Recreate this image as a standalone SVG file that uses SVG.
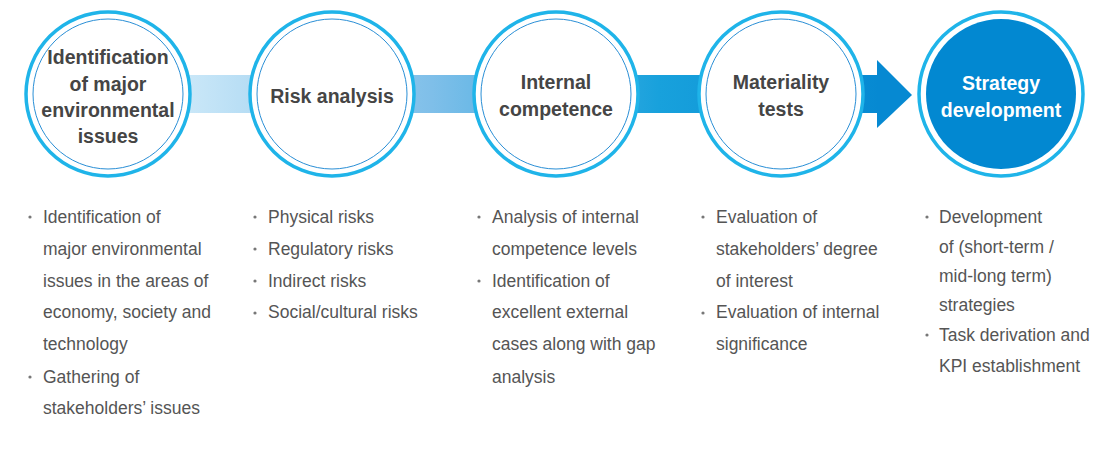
<svg xmlns="http://www.w3.org/2000/svg" width="1093" height="449" viewBox="0 0 1093 449">
<defs>
<linearGradient id="band" x1="190" y1="0" x2="880" y2="0" gradientUnits="userSpaceOnUse">
<stop offset="0" stop-color="#c9e7f8"/>
<stop offset="0.35" stop-color="#7fbfe9"/>
<stop offset="0.68" stop-color="#18a1dc"/>
<stop offset="1" stop-color="#0689d2"/>
</linearGradient>
</defs>
<style>
.outer{fill:#fff;stroke:#1fb4e9;stroke-width:3.5}
.inner{fill:none;stroke:#2a8fd6;stroke-width:1}
.title{font-family:"Liberation Sans",Arial,sans-serif;font-weight:bold;font-size:19.5px;fill:#454545;text-anchor:middle}
.white{fill:#fff}
.body{font-family:"Liberation Sans",Arial,sans-serif;font-size:17.5px;fill:#555}
.dot{fill:#777}
</style>
<rect width="1093" height="449" fill="#fff"/>
<g id="connectors">
<rect x="180" y="75" width="698" height="38" fill="url(#band)"/>
<polygon points="877,60 912,95 877,128" fill="#0689d2"/>
</g>
<g id="node1">
<circle class="outer" cx="108" cy="94" r="82"/>
<circle class="inner" cx="108" cy="94" r="75"/>
<text class="title" x="108" y="64">Identification</text>
<text class="title" x="108" y="91">of major</text>
<text class="title" x="108" y="117">environmental</text>
<text class="title" x="108" y="143">issues</text>
</g>
<g id="node2">
<circle class="outer" cx="332" cy="94" r="82"/>
<circle class="inner" cx="332" cy="94" r="75"/>
<text class="title" x="332" y="103">Risk analysis</text>
</g>
<g id="node3">
<circle class="outer" cx="556" cy="94" r="82"/>
<circle class="inner" cx="556" cy="94" r="75"/>
<text class="title" x="556" y="89">Internal</text>
<text class="title" x="556" y="116">competence</text>
</g>
<g id="node4">
<circle class="outer" cx="781" cy="94" r="82"/>
<circle class="inner" cx="781" cy="94" r="75"/>
<text class="title" x="781" y="89">Materiality</text>
<text class="title" x="781" y="116">tests</text>
</g>
<g id="node5">
<circle class="outer" cx="1001" cy="94" r="82"/>
<circle cx="1001" cy="94" r="75" fill="#0288d1"/>
<text class="title white" x="1001" y="90">Strategy</text>
<text class="title white" x="1001" y="117">development</text>
</g>
<g id="list1">
<circle class="dot" cx="30" cy="217" r="1.6"/>
<circle class="dot" cx="30" cy="377" r="1.6"/>
<text class="body" x="43" y="223">Identification of</text>
<text class="body" x="43" y="255">major environmental</text>
<text class="body" x="43" y="287">issues in the areas of</text>
<text class="body" x="43" y="318">economy, society and</text>
<text class="body" x="43" y="350">technology</text>
<text class="body" x="43" y="383">Gathering of</text>
<text class="body" x="43" y="414">stakeholders’ issues</text>
</g>
<g id="list2">
<circle class="dot" cx="255" cy="217" r="1.6"/>
<circle class="dot" cx="255" cy="249" r="1.6"/>
<circle class="dot" cx="255" cy="281" r="1.6"/>
<circle class="dot" cx="255" cy="313" r="1.6"/>
<text class="body" x="268" y="223">Physical risks</text>
<text class="body" x="268" y="255">Regulatory risks</text>
<text class="body" x="268" y="287">Indirect risks</text>
<text class="body" x="268" y="318">Social/cultural risks</text>
</g>
<g id="list3">
<circle class="dot" cx="479" cy="217" r="1.6"/>
<circle class="dot" cx="479" cy="281" r="1.6"/>
<text class="body" x="492" y="223">Analysis of internal</text>
<text class="body" x="492" y="255">competence levels</text>
<text class="body" x="492" y="287">Identification of</text>
<text class="body" x="492" y="318">excellent external</text>
<text class="body" x="492" y="350">cases along with gap</text>
<text class="body" x="492" y="383">analysis</text>
</g>
<g id="list4">
<circle class="dot" cx="703" cy="217" r="1.6"/>
<circle class="dot" cx="703" cy="313" r="1.6"/>
<text class="body" x="716" y="223">Evaluation of</text>
<text class="body" x="716" y="255">stakeholders’ degree</text>
<text class="body" x="716" y="287">of interest</text>
<text class="body" x="716" y="318">Evaluation of internal</text>
<text class="body" x="716" y="350">significance</text>
</g>
<g id="list5">
<circle class="dot" cx="927" cy="217" r="1.6"/>
<circle class="dot" cx="927" cy="335" r="1.6"/>
<text class="body" x="939" y="223">Development</text>
<text class="body" x="939" y="253">of (short-term /</text>
<text class="body" x="939" y="282">mid-long term)</text>
<text class="body" x="939" y="311">strategies</text>
<text class="body" x="939" y="341">Task derivation and</text>
<text class="body" x="939" y="372">KPI establishment</text>
</g>
</svg>
